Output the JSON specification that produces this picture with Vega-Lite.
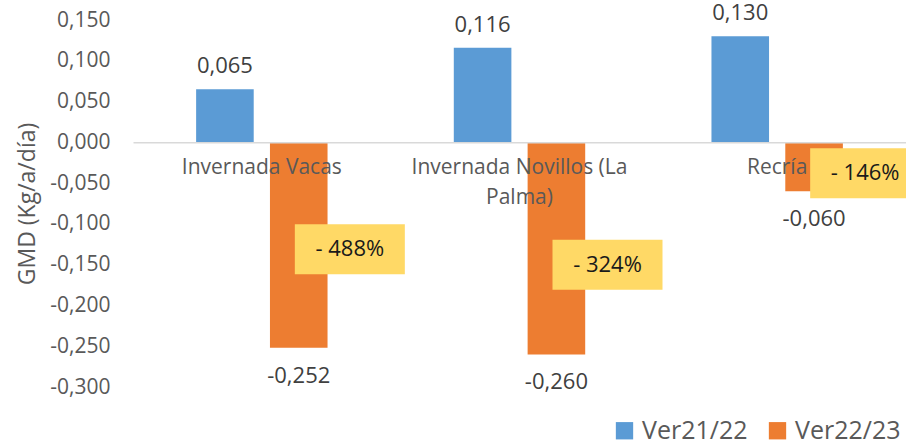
{
  "$schema": "https://vega.github.io/schema/vega-lite/v6.json",
  "autosize": {"type": "none"},
  "padding": {"left": 133, "top": 20, "right": 0, "bottom": 59},
  "width": 773,
  "height": 367,
  "background": "white",
  "config": {
    "view": {"stroke": null},
    "font": "Open Sans",
    "locale": {"number": {"decimal": ",", "thousands": ".", "grouping": [3], "currency": ["", " €"], "minus": "-"}}
  },
  "datasets": {
    "bars": [
      {"cat": "Invernada Vacas", "serie": "Ver21/22", "value": 0.065},
      {"cat": "Invernada Vacas", "serie": "Ver22/23", "value": -0.252},
      {"cat": "Invernada Novillos (La Palma)", "serie": "Ver21/22", "value": 0.116},
      {"cat": "Invernada Novillos (La Palma)", "serie": "Ver22/23", "value": -0.260},
      {"cat": "Recría", "serie": "Ver21/22", "value": 0.130},
      {"cat": "Recría", "serie": "Ver22/23", "value": -0.060}
    ],
    "annot": [
      {"cat": "Invernada Vacas", "text": "- 488%", "y": -0.131},
      {"cat": "Invernada Novillos (La Palma)", "text": "- 324%", "y": -0.150},
      {"cat": "Recría", "text": "- 146%", "y": -0.038}
    ]
  },
  "layer": [
    {
      "data": {"name": "bars"},
      "mark": {"type": "bar"},
      "encoding": {
        "x": {
          "field": "cat", "type": "nominal", "sort": null,
          "scale": {"paddingInner": 0.49, "paddingOuter": 0.245},
          "axis": {
            "orient": "bottom", "offset": -244.67, "title": null,
            "domain": true, "domainColor": "#d9d9d9", "domainWidth": 1.5,
            "ticks": false, "labelPadding": 14, "labelAngle": 0,
            "labelFontSize": 21, "labelColor": "#595959", "labelLimit": 400,
            "labelLineHeight": 30, "labelBaseline": "top", "labelOverlap": false,
            "labelExpr": "datum.value == 'Invernada Novillos (La Palma)' ? ['Invernada Novillos (La', 'Palma)'] : datum.value",
            "zindex": 1
          }
        },
        "xOffset": {"field": "serie", "type": "nominal", "scale": {"paddingInner": 0.22}},
        "y": {
          "field": "value", "type": "quantitative",
          "scale": {"domain": [-0.3, 0.15], "nice": false, "zero": false},
          "axis": {
            "title": "GMD (Kg/a/día)", "values": [0.15, 0.1, 0.05, 0, -0.05, -0.1, -0.15, -0.2, -0.25, -0.3],
            "format": ".3f", "grid": false, "domain": false, "ticks": false, "tickSize": 0,
            "labelPadding": 23, "labelFontSize": 21, "labelColor": "#595959",
            "titleFontSize": 23, "titleFontWeight": "normal", "titleColor": "#595959",
            "titleX": -106, "titleY": 183.5, "titleAngle": -90, "titleAlign": "center", "titleBaseline": "middle"
          }
        },
        "color": {
          "field": "serie", "type": "nominal",
          "scale": {"domain": ["Ver21/22", "Ver22/23"], "range": ["#5B9BD5", "#ED7D31"]},
          "legend": {
            "title": null, "orient": "none", "direction": "horizontal",
            "legendX": 479, "legendY": 398, "padding": 0,
            "symbolType": "square", "symbolSize": 300, "symbolStrokeWidth": 0,
            "labelFontSize": 25, "labelColor": "#595959", "labelOffset": 5,
            "columnPadding": 17
          }
        }
      }
    },
    {
      "data": {"name": "bars"},
      "transform": [{"filter": "datum.value > 0"}],
      "mark": {"type": "text", "baseline": "middle", "dy": -23, "fontSize": 22, "color": "#404040"},
      "encoding": {
        "x": {"field": "cat", "type": "nominal", "sort": null},
        "xOffset": {"field": "serie", "type": "nominal"},
        "y": {"field": "value", "type": "quantitative"},
        "text": {"field": "value", "type": "quantitative", "format": ".3f"}
      }
    },
    {
      "data": {"name": "bars"},
      "transform": [{"filter": "datum.value < 0"}],
      "mark": {"type": "text", "baseline": "middle", "dy": 28, "fontSize": 22, "color": "#404040"},
      "encoding": {
        "x": {"field": "cat", "type": "nominal", "sort": null},
        "xOffset": {"field": "serie", "type": "nominal"},
        "y": {"field": "value", "type": "quantitative"},
        "text": {"field": "value", "type": "quantitative", "format": ".3f"}
      }
    },
    {
      "data": {"name": "annot"},
      "mark": {
        "type": "point", "filled": true, "opacity": 1, "color": "#FFD966", "size": 12100,
        "shape": "M0.6,-0.4545 H2.6 V0.4545 H0.6 Z"
      },
      "encoding": {
        "x": {"field": "cat", "type": "nominal", "sort": null},
        "y": {"field": "y", "type": "quantitative"}
      }
    },
    {
      "data": {"name": "annot"},
      "mark": {"type": "text", "dx": 88, "align": "center", "baseline": "middle", "fontSize": 22, "color": "#1a1a1a"},
      "encoding": {
        "x": {"field": "cat", "type": "nominal", "sort": null},
        "y": {"field": "y", "type": "quantitative"},
        "text": {"field": "text", "type": "nominal"}
      }
    }
  ]
}
